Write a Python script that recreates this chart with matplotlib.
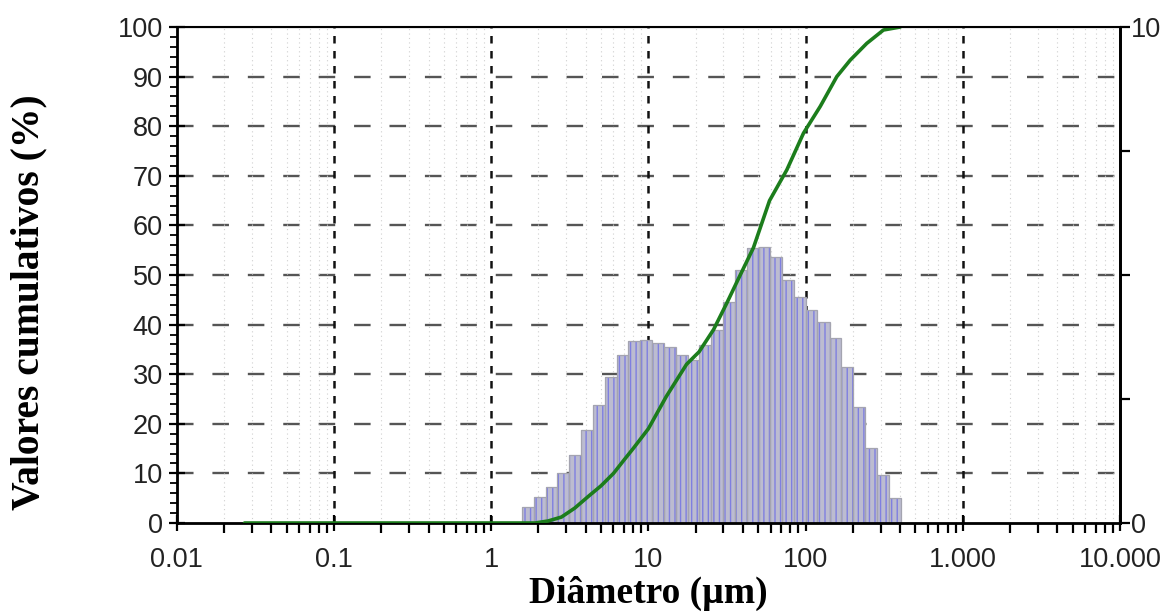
import numpy as np
import matplotlib
matplotlib.use("Agg")
import matplotlib.pyplot as plt
from matplotlib.ticker import FixedLocator, NullFormatter, LogLocator

# ---- data ----
bin_edges = [1.57, 1.86, 2.22, 2.64, 3.14, 3.73, 4.44, 5.28, 6.28, 7.47, 8.88,
             10.6, 12.6, 14.9, 17.8, 21.1, 25.1, 29.9, 35.5, 42.3, 50.2, 59.7,
             71.0, 84.5, 100, 119, 142, 169, 201, 239, 284, 338, 402]
bar_heights = [3.3, 5.3, 7.3, 10.0, 13.7, 18.8, 23.8, 29.5, 33.9, 36.6, 36.9,
               36.2, 35.5, 33.9, 32.9, 35.9, 38.9, 44.6, 51.0, 55.4, 55.7, 53.7,
               49.0, 45.6, 42.9, 40.6, 37.3, 31.5, 23.4, 15.1, 9.7, 5.0]

cum_diam = [0.027, 1.9, 2.3, 2.8, 3.4, 4.2, 5.0, 6.0, 7.0, 8.0, 10, 13, 17.5, 21,
            26, 31.5, 38, 46.6, 59, 76, 97, 124, 158, 192, 245, 313, 400]
cum_vals = [0, 0, 0.4, 1.2, 3.0, 5.5, 7.5, 10, 12.7, 15, 19, 25.5, 32, 34.5,
            39, 44.3, 49.7, 55.5, 65, 71.2, 78.6, 84, 90, 93.3, 96.7, 99.4, 100]

x_ticks = [0.01, 0.1, 1, 10, 100, 1000, 10000]
x_ticklabels = ["0.01", "0.1", "1", "10", "100", "1.000", "10.000"]
y_ticks = [0, 10, 20, 30, 40, 50, 60, 70, 80, 90, 100]
right_ticks = [0, 2.5, 5, 7.5, 10]
right_ticklabels = ["0", "", "", "", "10"]

# ---- figure ----
fig = plt.figure(figsize=(11.68, 6.14), dpi=100)
ax = fig.add_axes([0.1513, 0.1482, 0.8076, 0.8078])
ax.set_xscale("log")
ax.set_xlim(0.01, 10000)
ax.set_ylim(0, 100)

# minor dotted grid (faint)
ax.xaxis.set_minor_locator(LogLocator(base=10, subs=np.arange(2, 10)))
ax.grid(True, which="minor", axis="x", color="#d0d0d0", linestyle=(0, (1, 3)), linewidth=0.8, zorder=0)
ax.yaxis.set_minor_locator(FixedLocator(np.arange(0, 101, 2)))

# major grids
for yv in y_ticks[1:-1]:
    ax.axhline(yv, color="#555555", linestyle=(0, (7, 8)), linewidth=1.7, zorder=1)
for xv in x_ticks[1:-1]:
    ax.axvline(xv, color="#111111", linestyle=(0, (3, 3)), linewidth=1.8, zorder=1)

# histogram bars
lefts = np.array(bin_edges[:-1])
rights = np.array(bin_edges[1:])
widths = rights - lefts
ax.bar(lefts, bar_heights, width=widths, align="edge", color="#bcbcd0",
       edgecolor="#7f7fe0", hatch="|||", linewidth=0, zorder=2)
ax.bar(lefts, bar_heights, width=widths, align="edge", fill=False,
       edgecolor="#a4a4b0", linewidth=0.9, zorder=2.5)

# cumulative curve
ax.plot(cum_diam, cum_vals, color="#1c7d1c", linewidth=2.6, zorder=4, solid_capstyle="round")

# ticks
ax.set_xticks(x_ticks)
ax.set_xticklabels(x_ticklabels)
ax.xaxis.set_minor_formatter(NullFormatter())
ax.set_yticks(y_ticks)
ax.tick_params(axis="x", which="major", direction="inout", length=12, width=1.6, labelsize=19.5, pad=11)
ax.tick_params(axis="x", which="minor", direction="out", length=7, width=1.6)
ax.tick_params(axis="y", which="major", direction="inout", length=12, width=1.6, labelsize=19.5, pad=4)
ax.tick_params(axis="y", which="minor", direction="out", length=5, width=1.3)
for lab in ax.get_xticklabels() + ax.get_yticklabels():
    lab.set_fontfamily("Liberation Sans")
    lab.set_color("#222222")

for s in ["left", "bottom", "right"]:
    ax.spines[s].set_linewidth(2.0)
ax.spines["top"].set_linewidth(1.5)

ax2 = ax.twinx()
ax2.set_ylim(0, 10)
ax2.set_yticks(right_ticks)
ax2.set_yticklabels(right_ticklabels)
ax2.tick_params(axis="y", direction="out", length=7, width=1.6, labelsize=19.5, pad=1)
for lab in ax2.get_yticklabels():
    lab.set_fontfamily("Liberation Sans")
    lab.set_color("#222222")
ax2.spines["right"].set_linewidth(2.0)

ax.set_xlabel("Diâmetro (µm)", fontfamily="Liberation Serif", fontweight="bold",
              fontsize=27, labelpad=2)
ax.set_ylabel("Valores cumulativos (%)", fontfamily="Liberation Serif", fontweight="bold",
              fontsize=28.5)
ax.yaxis.set_label_coords(-0.137, 0.4456)

fig.savefig("out.png", dpi=100)
